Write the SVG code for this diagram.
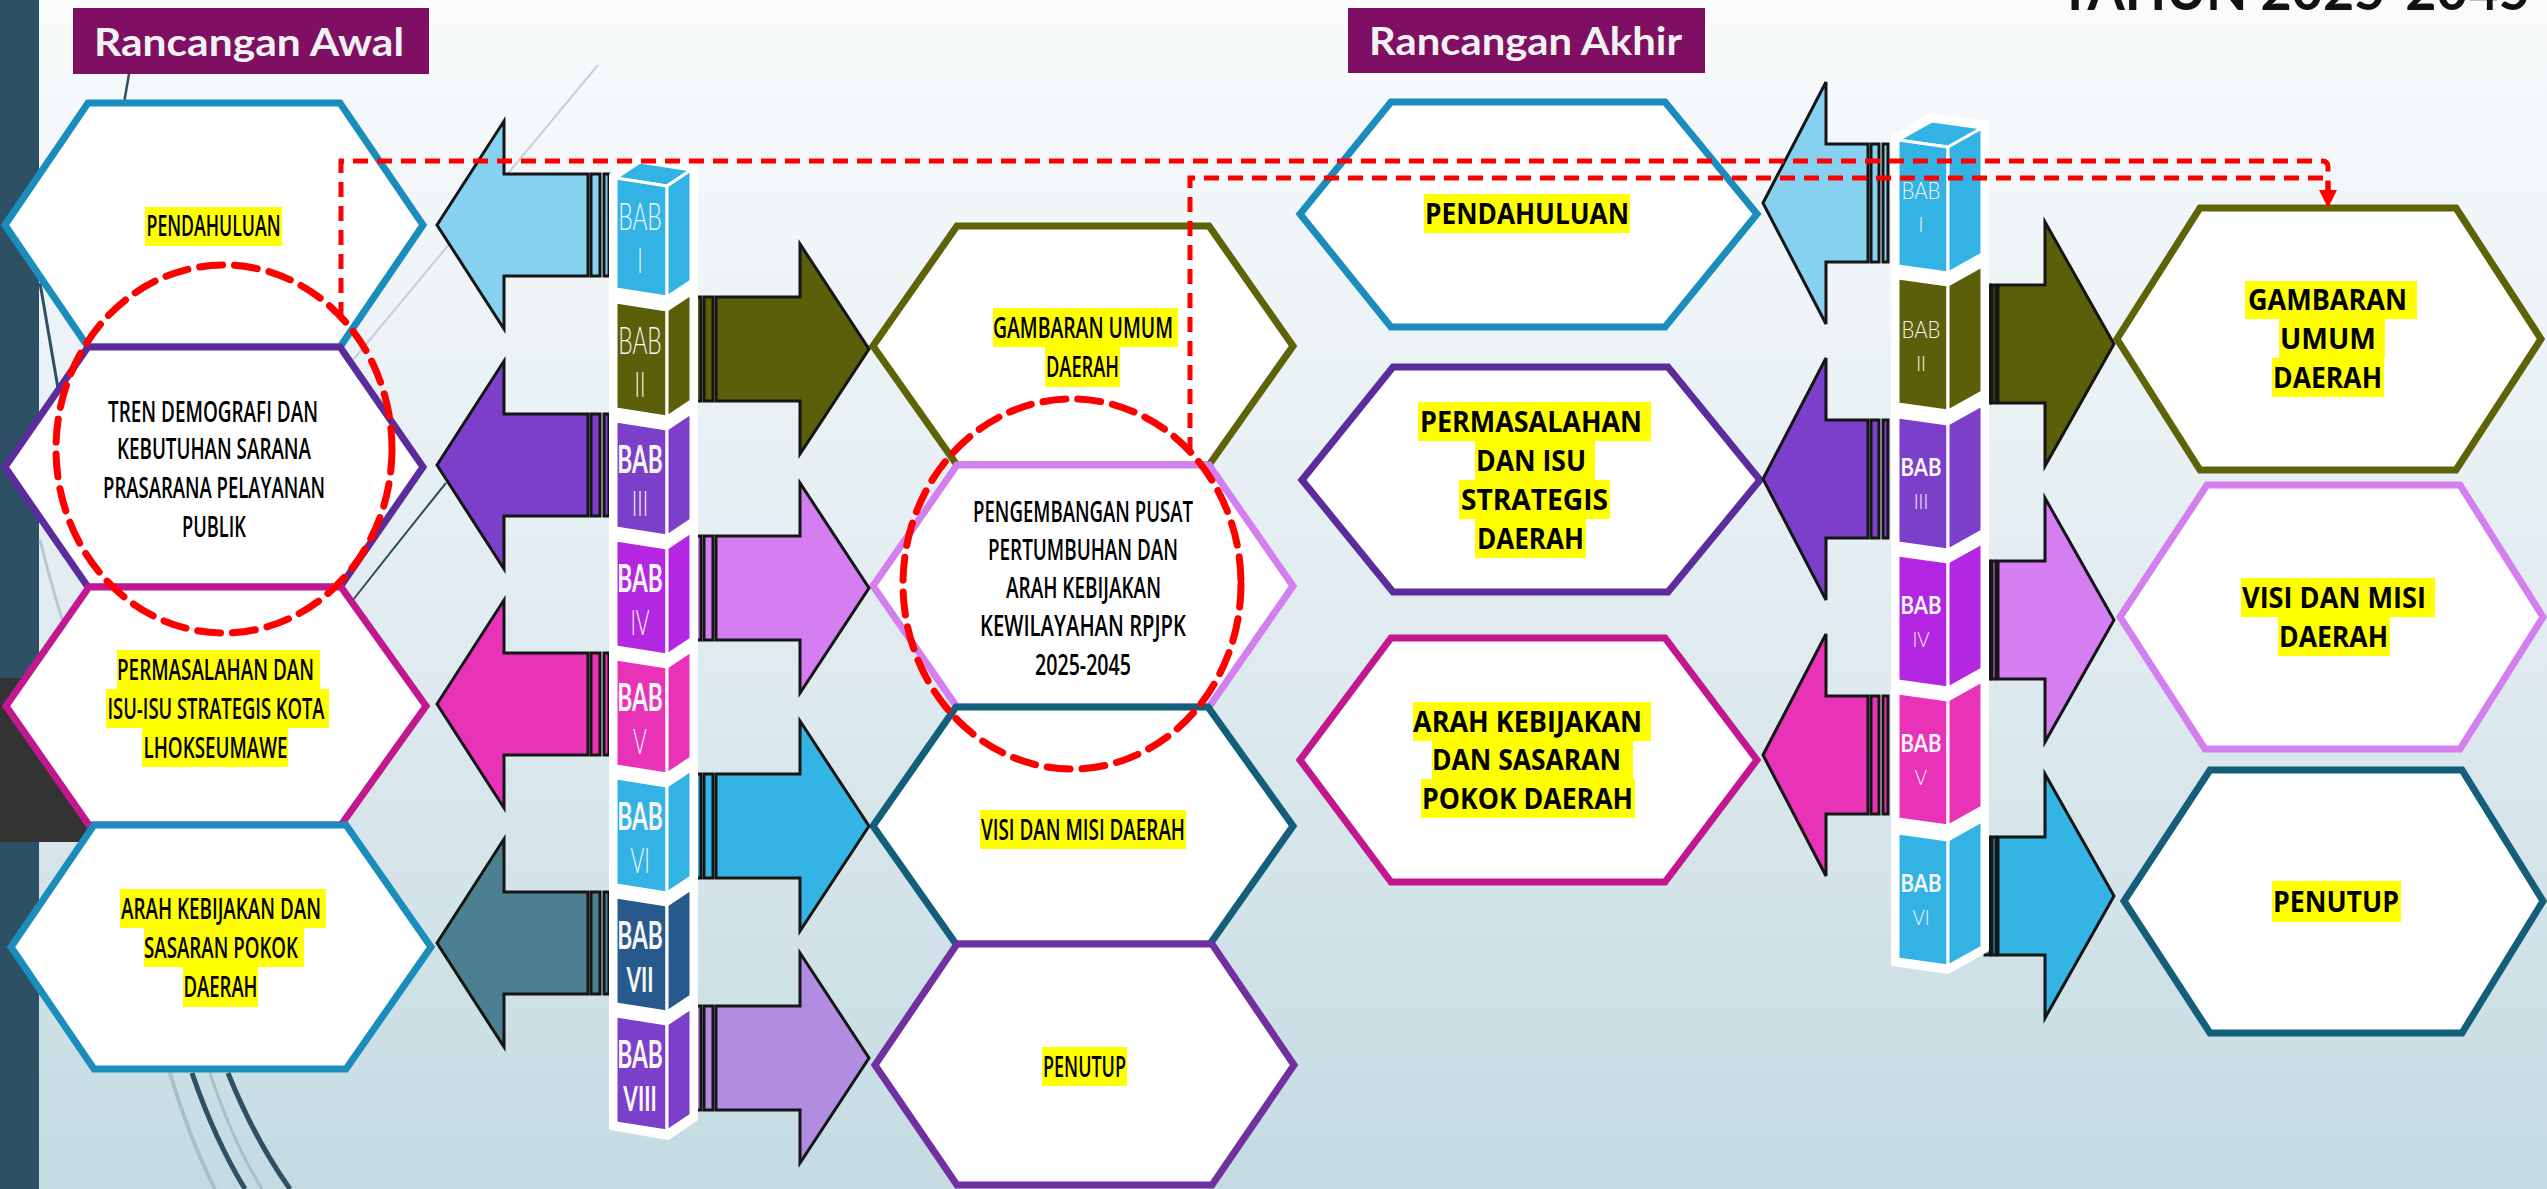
<svg xmlns="http://www.w3.org/2000/svg" width="2547" height="1189" viewBox="0 0 2547 1189">
<defs>
<linearGradient id="bg" x1="0" y1="0" x2="0" y2="1">
<stop offset="0" stop-color="#f9fbfc"/>
<stop offset="0.45" stop-color="#e5eef2"/>
<stop offset="1" stop-color="#c4dbe2"/>
</linearGradient>
<style>
.hex{fill:#fff;stroke-width:7;stroke-linejoin:miter}
.t{font-family:"Open Sans","Noto Sans",sans-serif;font-size:28px;font-weight:600;fill:#000;text-anchor:middle}
.tb{font-weight:700}
.hl{fill:#ffff00}
.arr{stroke:#151515;stroke-width:3;stroke-linejoin:miter}
.face{stroke:#fff;stroke-width:3;stroke-linejoin:round}
.bab{font-family:Lato,"Open Sans",sans-serif;fill:#f6f6f6;text-anchor:middle}
.b1{font-size:38px}
.n1{font-size:35px}
.b2{font-size:24px}
.n2{font-size:22px}
.thin{font-weight:300}
.bold{font-weight:700}
.red{fill:none;stroke:#ff0000;stroke-width:5;stroke-dasharray:15 9}
.circ{fill:none;stroke:#ff0000;stroke-width:7;stroke-dasharray:23 12;stroke-linecap:round}
.ttl{font-family:Lato,"Open Sans",sans-serif;font-weight:700;font-size:39px;fill:#f2f2f2}
.deco{fill:none}
</style>
</defs>
<rect width="2547" height="1189" fill="url(#bg)"/>
<g id="background">
<rect x="0" y="0" width="39" height="1189" fill="#2d5065"/>
<rect x="0" y="678" width="120" height="164" fill="#333333"/>
<path class="deco" d="M598,65 L353,360" stroke="#c6d0d7" stroke-width="2"/>
<path class="deco" d="M129,74 L124,103" stroke="#2d5065" stroke-width="2.5"/>
<path class="deco" d="M40,283 Q50,340 60,400" stroke="#2d5065" stroke-width="3"/>
<path class="deco" d="M40,540 Q55,600 72,650" stroke="#b8c9d1" stroke-width="3"/>
<path class="deco" d="M446,483 Q400,540 353,600" stroke="#2d5065" stroke-width="2"/>
<path class="deco" d="M170,1073 Q190,1140 215,1189" stroke="#a8c0ca" stroke-width="4"/>
<path class="deco" d="M210,1073 Q232,1140 262,1189" stroke="#a8c0ca" stroke-width="3"/>
<path class="deco" d="M192,1073 Q215,1140 245,1189" stroke="#2d5065" stroke-width="5"/>
<path class="deco" d="M228,1073 Q255,1140 290,1189" stroke="#2d5065" stroke-width="5"/>
</g>
<g id="title-awal">
<rect x="73" y="8" width="356" height="66" fill="#7e0f62"/>
<text class="ttl" x="94" y="56" textLength="310" lengthAdjust="spacingAndGlyphs">Rancangan Awal</text>
</g>
<g id="title-akhir">
<rect x="1348" y="8" width="357" height="65" fill="#7e0f62"/>
<text class="ttl" x="1369" y="55" textLength="313" lengthAdjust="spacingAndGlyphs">Rancangan Akhir</text>
</g>
<g id="title-tahun">
<text x="2059" y="10" font-family="Lato,'Liberation Sans',sans-serif" font-weight="700" font-size="56" fill="#111" textLength="471" lengthAdjust="spacingAndGlyphs">TAHUN 2025-2045</text>
</g>

<g id="node-awal-pendahuluan">
<polygon class="hex" stroke="#1b8dbd" points="88,103 340,103 423,225 340,347 88,347 5,225"/>
<rect class="hl" x="145" y="207" width="137" height="39"/>
<text class="t" x="213.5" y="236" textLength="134" lengthAdjust="spacingAndGlyphs">PENDAHULUAN</text>
</g>
<g id="node-awal-tren">
<polygon class="hex" stroke="#5b2d9c" points="88,347 340,347 423,467 340,587 88,587 5,467"/>
<text class="t" x="213" y="422" textLength="210" lengthAdjust="spacingAndGlyphs">TREN DEMOGRAFI DAN</text>
<text class="t" x="214" y="459" textLength="194" lengthAdjust="spacingAndGlyphs">KEBUTUHAN SARANA</text>
<text class="t" x="214" y="498" textLength="222" lengthAdjust="spacingAndGlyphs">PRASARANA PELAYANAN</text>
<text class="t" x="214" y="537" textLength="64" lengthAdjust="spacingAndGlyphs">PUBLIK</text>
</g>
<g id="node-awal-permasalahan">
<polygon class="hex" stroke="#c2188f" points="89,587 341,587 426,706 341,825 89,825 6,706"/>
<rect class="hl" x="117" y="650" width="203" height="39"/>
<rect class="hl" x="106" y="689" width="223" height="39"/>
<rect class="hl" x="142" y="728" width="146" height="39"/>
<text class="t" x="215.5" y="680" textLength="197" lengthAdjust="spacingAndGlyphs">PERMASALAHAN DAN</text>
<text class="t" x="216" y="719" textLength="217" lengthAdjust="spacingAndGlyphs">ISU-ISU STRATEGIS KOTA</text>
<text class="t" x="215.5" y="758" textLength="144" lengthAdjust="spacingAndGlyphs">LHOKSEUMAWE</text>
</g>
<g id="node-awal-arah">
<polygon class="hex" stroke="#1b8dbd" points="94,825 346,825 431,947 346,1069 94,1069 11,947"/>
<rect class="hl" x="120" y="889" width="206" height="39"/>
<rect class="hl" x="144" y="928" width="160" height="39"/>
<rect class="hl" x="183" y="967" width="75" height="40"/>
<text class="t" x="221" y="919" textLength="200" lengthAdjust="spacingAndGlyphs">ARAH KEBIJAKAN DAN</text>
<text class="t" x="221" y="958" textLength="154" lengthAdjust="spacingAndGlyphs">SASARAN POKOK</text>
<text class="t" x="220.5" y="997" textLength="74" lengthAdjust="spacingAndGlyphs">DAERAH</text>
</g>

<g id="node-awal-gambaran">
<polygon class="hex" stroke="#5f6308" points="957,226 1209,226 1293,346 1209,465 957,465 873,346"/>
<rect class="hl" x="993" y="308" width="185" height="39"/>
<rect class="hl" x="1045" y="347" width="75" height="40"/>
<text class="t" x="1083" y="338" textLength="180" lengthAdjust="spacingAndGlyphs">GAMBARAN UMUM</text>
<text class="t" x="1082.5" y="377" textLength="73" lengthAdjust="spacingAndGlyphs">DAERAH</text>
</g>
<g id="node-awal-pengembangan">
<polygon class="hex" stroke="#d47ff0" points="957,465 1209,465 1293,586 1209,707 957,707 873,586"/>
<text class="t" x="1083" y="522" textLength="220" lengthAdjust="spacingAndGlyphs">PENGEMBANGAN PUSAT</text>
<text class="t" x="1083" y="560" textLength="190" lengthAdjust="spacingAndGlyphs">PERTUMBUHAN DAN</text>
<text class="t" x="1083.5" y="598" textLength="155" lengthAdjust="spacingAndGlyphs">ARAH KEBIJAKAN</text>
<text class="t" x="1083" y="636" textLength="206" lengthAdjust="spacingAndGlyphs">KEWILAYAHAN RPJPK</text>
<text class="t" x="1083" y="675" textLength="96" lengthAdjust="spacingAndGlyphs">2025-2045</text>
</g>
<g id="node-awal-visi">
<polygon class="hex" stroke="#135e7a" points="956,707 1208,707 1293,826 1210,944 956,944 873,826"/>
<rect class="hl" x="980" y="810" width="206" height="39"/>
<text class="t" x="1083" y="840" textLength="204" lengthAdjust="spacingAndGlyphs">VISI DAN MISI DAERAH</text>
</g>
<g id="node-awal-penutup">
<polygon class="hex" stroke="#7030a0" points="957,944 1212,944 1294,1065 1212,1185 957,1185 875,1065"/>
<rect class="hl" x="1042" y="1047" width="85" height="39"/>
<text class="t" x="1084.5" y="1077" textLength="83" lengthAdjust="spacingAndGlyphs">PENUTUP</text>
</g>

<g id="node-akhir-pendahuluan">
<polygon class="hex" stroke="#1b8dbd" points="1391,102 1665,102 1757,214 1665,327 1391,327 1300,214"/>
<rect class="hl" x="1424" y="194" width="206" height="39"/>
<text class="t tb" x="1527" y="224" textLength="204" lengthAdjust="spacingAndGlyphs">PENDAHULUAN</text>
</g>
<g id="node-akhir-permasalahan">
<polygon class="hex" stroke="#5b2d9c" points="1393,367 1668,367 1760,480 1668,592 1393,592 1302,480"/>
<rect class="hl" x="1418" y="402" width="233" height="39"/>
<rect class="hl" x="1475" y="441" width="120" height="39"/>
<rect class="hl" x="1459" y="480" width="151" height="39"/>
<rect class="hl" x="1475" y="519" width="111" height="39"/>
<text class="t tb" x="1531" y="432" textLength="222" lengthAdjust="spacingAndGlyphs">PERMASALAHAN</text>
<text class="t tb" x="1531" y="471" textLength="110" lengthAdjust="spacingAndGlyphs">DAN ISU</text>
<text class="t tb" x="1534.5" y="510" textLength="147" lengthAdjust="spacingAndGlyphs">STRATEGIS</text>
<text class="t tb" x="1530.5" y="549" textLength="107" lengthAdjust="spacingAndGlyphs">DAERAH</text>
</g>
<g id="node-akhir-arah">
<polygon class="hex" stroke="#c2188f" points="1391,638 1665,638 1757,760 1665,882 1391,882 1300,760"/>
<rect class="hl" x="1413" y="702" width="238" height="39"/>
<rect class="hl" x="1432" y="741" width="201" height="38"/>
<rect class="hl" x="1421" y="779" width="214" height="39"/>
<text class="t tb" x="1527.5" y="732" textLength="229" lengthAdjust="spacingAndGlyphs">ARAH KEBIJAKAN</text>
<text class="t tb" x="1526.5" y="770" textLength="189" lengthAdjust="spacingAndGlyphs">DAN SASARAN</text>
<text class="t tb" x="1527.5" y="809" textLength="211" lengthAdjust="spacingAndGlyphs">POKOK DAERAH</text>
</g>

<g id="node-akhir-gambaran">
<polygon class="hex" stroke="#5f6308" points="2200,208 2456,208 2541,339 2456,470 2200,470 2117,339"/>
<rect class="hl" x="2245" y="281" width="172" height="38"/>
<rect class="hl" x="2279" y="319" width="106" height="39"/>
<rect class="hl" x="2272" y="358" width="112" height="39"/>
<text class="t tb" x="2327.5" y="310" textLength="159" lengthAdjust="spacingAndGlyphs">GAMBARAN</text>
<text class="t tb" x="2328" y="349" textLength="96" lengthAdjust="spacingAndGlyphs">UMUM</text>
<text class="t tb" x="2327.5" y="388" textLength="109" lengthAdjust="spacingAndGlyphs">DAERAH</text>
</g>
<g id="node-akhir-visi">
<polygon class="hex" stroke="#d47ff0" points="2207,485 2460,485 2543,617 2460,749 2205,749 2120,617"/>
<rect class="hl" x="2241" y="578" width="194" height="39"/>
<rect class="hl" x="2278" y="617" width="112" height="39"/>
<text class="t tb" x="2334" y="608" textLength="184" lengthAdjust="spacingAndGlyphs">VISI DAN MISI</text>
<text class="t tb" x="2333.5" y="647" textLength="109" lengthAdjust="spacingAndGlyphs">DAERAH</text>
</g>
<g id="node-akhir-penutup">
<polygon class="hex" stroke="#135e7a" points="2210,770 2462,770 2543,901 2462,1033 2210,1033 2124,901"/>
<rect class="hl" x="2272" y="881" width="129" height="41"/>
<text class="t tb" x="2336" y="912" textLength="126" lengthAdjust="spacingAndGlyphs">PENUTUP</text>
</g>

<g id="connectors">
<g id="arrows-awal">
<polygon class="arr" fill="#85d1ef" points="437,225 504,121 504,174 588,174 588,276 504,276 504,329"/>
<rect class="arr" fill="#85d1ef" x="591" y="174" width="9" height="102"/><rect class="arr" fill="#85d1ef" x="604" y="174" width="5" height="102"/>
<polygon class="arr" fill="#7c3fca" points="437,465 504,361 504,414 588,414 588,516 504,516 504,569"/>
<rect class="arr" fill="#7c3fca" x="591" y="414" width="9" height="102"/><rect class="arr" fill="#7c3fca" x="604" y="414" width="5" height="102"/>
<polygon class="arr" fill="#e832b8" points="437,704 504,600 504,653 588,653 588,755 504,755 504,808"/>
<rect class="arr" fill="#e832b8" x="591" y="653" width="9" height="102"/><rect class="arr" fill="#e832b8" x="604" y="653" width="5" height="102"/>
<polygon class="arr" fill="#4a808f" points="437,943 504,839 504,892 588,892 588,994 504,994 504,1047"/>
<rect class="arr" fill="#4a808f" x="591" y="892" width="9" height="102"/><rect class="arr" fill="#4a808f" x="604" y="892" width="5" height="102"/>

<polygon class="arr" fill="#5c5f09" points="716,297 800,297 800,244 869,349 800,454 800,401 716,401"/>
<rect class="arr" fill="#5c5f09" x="696" y="297" width="5" height="104"/><rect class="arr" fill="#5c5f09" x="704" y="297" width="9" height="104"/>
<polygon class="arr" fill="#d57ef1" points="716,536 800,536 800,483 869,588 800,693 800,640 716,640"/>
<rect class="arr" fill="#d57ef1" x="696" y="536" width="5" height="104"/><rect class="arr" fill="#d57ef1" x="704" y="536" width="9" height="104"/>
<polygon class="arr" fill="#33b4e4" points="716,774 800,774 800,721 869,826 800,931 800,878 716,878"/>
<rect class="arr" fill="#33b4e4" x="696" y="774" width="5" height="104"/><rect class="arr" fill="#33b4e4" x="704" y="774" width="9" height="104"/>
<polygon class="arr" fill="#b18ce0" points="716,1006 800,1006 800,953 869,1058 800,1163 800,1110 716,1110"/>
<rect class="arr" fill="#b18ce0" x="696" y="1006" width="5" height="104"/><rect class="arr" fill="#b18ce0" x="704" y="1006" width="9" height="104"/>
</g>
<g id="arrows-akhir">
<polygon class="arr" fill="#85d1ef" points="1763,203 1826,82 1826,144 1868,144 1868,262 1826,262 1826,324"/>
<rect class="arr" fill="#85d1ef" x="1871" y="144" width="8" height="118"/><rect class="arr" fill="#85d1ef" x="1883" y="144" width="5" height="118"/>
<polygon class="arr" fill="#7c3fca" points="1763,479 1826,358 1826,420 1868,420 1868,538 1826,538 1826,600"/>
<rect class="arr" fill="#7c3fca" x="1871" y="420" width="8" height="118"/><rect class="arr" fill="#7c3fca" x="1883" y="420" width="5" height="118"/>
<polygon class="arr" fill="#e832b8" points="1763,755 1826,634 1826,696 1868,696 1868,814 1826,814 1826,876"/>
<rect class="arr" fill="#e832b8" x="1871" y="696" width="8" height="118"/><rect class="arr" fill="#e832b8" x="1883" y="696" width="5" height="118"/>

<polygon class="arr" fill="#5c5f09" points="1998,285 2045,285 2045,222 2114,344 2045,466 2045,403 1998,403"/>
<rect class="arr" fill="#5c5f09" x="1985" y="285" width="5" height="118"/><rect class="arr" fill="#5c5f09" x="1992" y="285" width="4" height="118"/>
<polygon class="arr" fill="#d57ef1" points="1998,561 2045,561 2045,498 2114,620 2045,742 2045,679 1998,679"/>
<rect class="arr" fill="#d57ef1" x="1985" y="561" width="5" height="118"/><rect class="arr" fill="#d57ef1" x="1992" y="561" width="4" height="118"/>
<polygon class="arr" fill="#33b4e4" points="1998,837 2045,837 2045,774 2114,896 2045,1018 2045,955 1998,955"/>
<rect class="arr" fill="#33b4e4" x="1985" y="837" width="5" height="118"/><rect class="arr" fill="#33b4e4" x="1992" y="837" width="4" height="118"/>
</g>
</g>

<g id="node-bab-awal">
<polygon fill="#fff" stroke="#fff" stroke-width="4" stroke-linejoin="round" points="611,175 638,157 696,164 696,1119 668,1138 611,1128"/>
<polygon class="face" fill="#32b3e4" points="616,178 640,162 691,170 667,186"/>
<polygon class="face" fill="#32b3e4" points="616,178 667,186 667,297 616,289"/>
<polygon class="face" fill="#32b3e4" points="667,186 691,170 691,281 667,297"/>
<text class="bab" transform="translate(640 0) scale(0.6 1)"><tspan class="b1 thin" x="0" y="230">BAB</tspan><tspan class="n1 thin" x="0" y="273">I</tspan></text>

<polygon class="face" fill="#5c5f09" points="616,302 667,310 667,417 616,409"/>
<polygon class="face" fill="#5c5f09" points="667,310 691,294 691,401 667,417"/>
<text class="bab" transform="translate(640 0) scale(0.6 1)"><tspan class="b1 thin" x="0" y="354">BAB</tspan><tspan class="n1 thin" x="0" y="397">II</tspan></text>

<polygon class="face" fill="#7c3fca" points="616,421 667,429 667,536 616,528"/>
<polygon class="face" fill="#7c3fca" points="667,429 691,413 691,520 667,536"/>
<text class="bab" transform="translate(640 0) scale(0.6 1)"><tspan class="b1 bold" x="0" y="473">BAB</tspan><tspan class="n1 thin" x="0" y="516">III</tspan></text>

<polygon class="face" fill="#b327e3" points="616,540 667,548 667,655 616,647"/>
<polygon class="face" fill="#b327e3" points="667,548 691,532 691,639 667,655"/>
<text class="bab" transform="translate(640 0) scale(0.6 1)"><tspan class="b1 bold" x="0" y="592">BAB</tspan><tspan class="n1 thin" x="0" y="635">IV</tspan></text>

<polygon class="face" fill="#e832b8" points="616,659 667,667 667,774 616,766"/>
<polygon class="face" fill="#e832b8" points="667,667 691,651 691,758 667,774"/>
<text class="bab" transform="translate(640 0) scale(0.6 1)"><tspan class="b1 bold" x="0" y="711">BAB</tspan><tspan class="n1 thin" x="0" y="754">V</tspan></text>

<polygon class="face" fill="#32b3e4" points="616,778 667,786 667,893 616,885"/>
<polygon class="face" fill="#32b3e4" points="667,786 691,770 691,877 667,893"/>
<text class="bab" transform="translate(640 0) scale(0.6 1)"><tspan class="b1 bold" x="0" y="830">BAB</tspan><tspan class="n1 thin" x="0" y="873">VI</tspan></text>

<polygon class="face" fill="#28598c" points="616,897 667,905 667,1012 616,1004"/>
<polygon class="face" fill="#28598c" points="667,905 691,889 691,996 667,1012"/>
<text class="bab" transform="translate(640 0) scale(0.6 1)"><tspan class="b1 bold" x="0" y="949">BAB</tspan><tspan class="n1 bold" x="0" y="992">VII</tspan></text>

<polygon class="face" fill="#7c3fca" points="616,1016 667,1024 667,1131 616,1123"/>
<polygon class="face" fill="#7c3fca" points="667,1024 691,1008 691,1115 667,1131"/>
<text class="bab" transform="translate(640 0) scale(0.6 1)"><tspan class="b1 bold" x="0" y="1068">BAB</tspan><tspan class="n1 bold" x="0" y="1111">VIII</tspan></text>
</g>

<g id="node-bab-akhir">
<polygon fill="#fff" stroke="#fff" stroke-width="4" stroke-linejoin="round" points="1893,137 1930,115 1987,123 1987,950 1948,972 1893,964"/>
<polygon class="face" fill="#32b3e4" points="1898,140 1932,121 1982,128 1948,147"/>
<polygon class="face" fill="#32b3e4" points="1898,140 1948,147 1948,273 1898,266"/>
<polygon class="face" fill="#32b3e4" points="1948,147 1982,128 1982,254 1948,273"/>
<text class="bab" transform="translate(1921 0) scale(0.85 1)"><tspan class="b2 thin" x="0" y="199">BAB</tspan><tspan class="n2 thin" x="0" y="232">I</tspan></text>

<polygon class="face" fill="#5c5f09" points="1898,278 1948,285 1948,411 1898,404"/>
<polygon class="face" fill="#5c5f09" points="1948,285 1982,266 1982,392 1948,411"/>
<text class="bab" transform="translate(1921 0) scale(0.85 1)"><tspan class="b2 thin" x="0" y="338">BAB</tspan><tspan class="n2 thin" x="0" y="371">II</tspan></text>

<polygon class="face" fill="#7c3fca" points="1898,417 1948,424 1948,550 1898,543"/>
<polygon class="face" fill="#7c3fca" points="1948,424 1982,405 1982,531 1948,550"/>
<text class="bab" transform="translate(1921 0) scale(0.85 1)"><tspan class="b2 bold" x="0" y="476">BAB</tspan><tspan class="n2 thin" x="0" y="509">III</tspan></text>

<polygon class="face" fill="#b327e3" points="1898,555 1948,562 1948,688 1898,681"/>
<polygon class="face" fill="#b327e3" points="1948,562 1982,543 1982,669 1948,688"/>
<text class="bab" transform="translate(1921 0) scale(0.85 1)"><tspan class="b2 bold" x="0" y="614">BAB</tspan><tspan class="n2 thin" x="0" y="647">IV</tspan></text>

<polygon class="face" fill="#e832b8" points="1898,693 1948,700 1948,826 1898,819"/>
<polygon class="face" fill="#e832b8" points="1948,700 1982,681 1982,807 1948,826"/>
<text class="bab" transform="translate(1921 0) scale(0.85 1)"><tspan class="b2 bold" x="0" y="752">BAB</tspan><tspan class="n2 thin" x="0" y="785">V</tspan></text>

<polygon class="face" fill="#32b3e4" points="1898,833 1948,840 1948,966 1898,959"/>
<polygon class="face" fill="#32b3e4" points="1948,840 1982,821 1982,947 1948,966"/>
<text class="bab" transform="translate(1921 0) scale(0.85 1)"><tspan class="b2 bold" x="0" y="892">BAB</tspan><tspan class="n2 thin" x="0" y="925">VI</tspan></text>
</g>

<g id="red-links">
<path class="red" d="M341,317 V161 H2322 Q2328,161 2328,167 V190"/>
<path class="red" d="M1190,452 V178 H2328 V190"/>
<polygon fill="#ff0000" points="2319,190 2337,190 2328,208"/>
</g>
<g id="red-circles">
<ellipse class="circ" cx="224" cy="449" rx="168" ry="184"/>
<ellipse class="circ" cx="1072" cy="584" rx="169" ry="185"/>
</g>
</svg>
